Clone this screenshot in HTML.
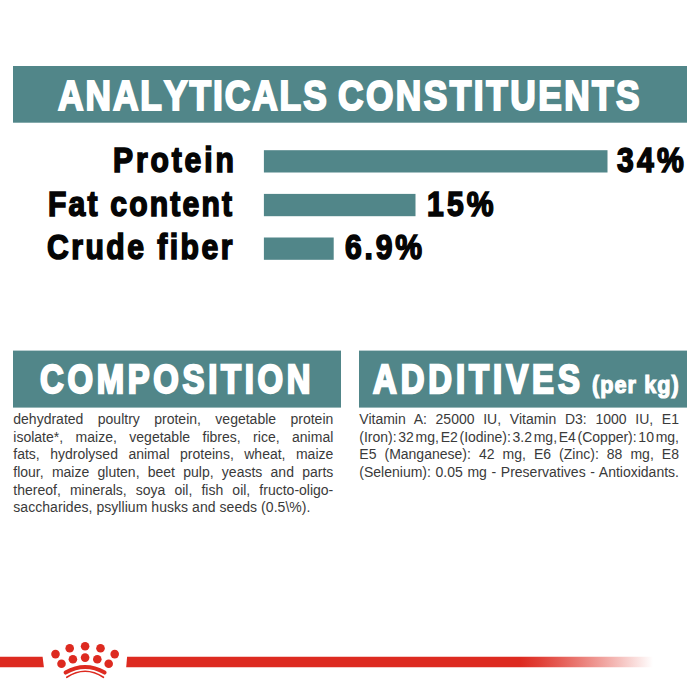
<!DOCTYPE html>
<html>
<head>
<meta charset="utf-8">
<style>
html,body{margin:0;padding:0;background:#fff;}
body{width:700px;height:700px;position:relative;overflow:hidden;font-family:"Liberation Sans",sans-serif;}
.abs{position:absolute;}
.t{position:absolute;font-weight:bold;white-space:nowrap;transform-origin:0 0;line-height:1;font-kerning:none;}
.b{position:absolute;font-size:14px;line-height:14px;height:14px;color:#3a3a3a;width:320px;text-align:justify;text-align-last:justify;white-space:nowrap;}
</style>
</head>
<body>
<svg class="abs" style="left:0;top:0" width="700" height="700" viewBox="0 0 700 700"><defs><linearGradient id="rg" gradientUnits="userSpaceOnUse" x1="126.2" y1="0" x2="653" y2="0"><stop offset="0.7475" stop-color="#dd2a20" stop-opacity="1.000"/><stop offset="0.7855" stop-color="#dd2a20" stop-opacity="0.897"/><stop offset="0.8235" stop-color="#dd2a20" stop-opacity="0.763"/><stop offset="0.8614" stop-color="#dd2a20" stop-opacity="0.615"/><stop offset="0.8994" stop-color="#dd2a20" stop-opacity="0.457"/><stop offset="0.9374" stop-color="#dd2a20" stop-opacity="0.290"/><stop offset="0.9753" stop-color="#dd2a20" stop-opacity="0.116"/><stop offset="1.0000" stop-color="#dd2a20" stop-opacity="0.000"/></linearGradient></defs><rect x="13" y="66" width="674.00" height="56.70" fill="#518689"/>
<rect x="13" y="350.6" width="328.00" height="57.00" fill="#518689"/>
<rect x="359" y="350.6" width="328.00" height="57.00" fill="#518689"/>
<rect x="263.9" y="150.2" width="343.60" height="22.30" fill="#518689"/>
<rect x="263.9" y="193.9" width="151.60" height="22.30" fill="#518689"/>
<rect x="263.9" y="237.5" width="69.80" height="22.30" fill="#518689"/>
<polygon points="0,656.8 42.6,656.8 43.9,667.3 0,667.3" fill="#dd2a20"/>
<polygon points="127.1,656.8 653,656.8 653,667.3 126.2,667.3" fill="url(#rg)"/>
<g fill="#dd2a20">
<circle cx="55.5" cy="654.1" r="4.3"/>
<circle cx="69.7" cy="648.2" r="4.3"/>
<circle cx="85.1" cy="646.3" r="4.3"/>
<circle cx="100.5" cy="648.2" r="4.3"/>
<circle cx="114.7" cy="654.1" r="4.3"/>
<circle cx="61.5" cy="663.8" r="4.3"/>
<circle cx="72.9" cy="659.3" r="4.3"/>
<circle cx="85.1" cy="657.6" r="4.3"/>
<circle cx="97.3" cy="659.3" r="4.3"/>
<circle cx="108.7" cy="663.8" r="4.3"/>
</g>
<path d="M65.6 672.6 Q85.1 661.5 104.6 672.6" fill="none" stroke="#dd2a20" stroke-width="4" stroke-linecap="round"/>
<path d="M66.8 677.3 Q85.1 665.2 103.4 677.3" fill="none" stroke="#dd2a20" stroke-width="1.7" stroke-linecap="round"/></svg>
<div class="t" style="left:57.64px;top:74.00px;font-size:43px;letter-spacing:2.425px;color:#fff;transform:scaleX(0.8200);-webkit-text-stroke:2.2px #fff;">ANALYTICALS</div>
<div class="t" style="left:338.29px;top:74.00px;font-size:43px;letter-spacing:3.037px;color:#fff;transform:scaleX(0.8200);-webkit-text-stroke:2.2px #fff;">CONSTITUENTS</div>
<div class="t" style="left:40.35px;top:359.00px;font-size:41px;letter-spacing:4.660px;color:#fff;transform:scaleX(0.8000);-webkit-text-stroke:2.4px #fff;">COMPOSITION</div>
<div class="t" style="left:373.18px;top:359.00px;font-size:41px;letter-spacing:4.977px;color:#fff;transform:scaleX(0.8000);-webkit-text-stroke:2.4px #fff;">ADDITIVES</div>
<div class="t" style="left:592.36px;top:373.00px;font-size:24px;letter-spacing:1.192px;color:#fff;transform:scaleX(0.9000);-webkit-text-stroke:1.2px #fff;">(per kg)</div>
<div class="t" style="left:112.88px;top:142.00px;font-size:35px;letter-spacing:3.313px;color:#050505;transform:scaleX(0.8600);-webkit-text-stroke:1.6px #050505;">Protein</div>
<div class="t" style="left:48.28px;top:186.00px;font-size:35px;letter-spacing:2.546px;color:#050505;transform:scaleX(0.8600);-webkit-text-stroke:1.6px #050505;">Fat content</div>
<div class="t" style="left:47.38px;top:229.00px;font-size:35px;letter-spacing:2.883px;color:#050505;transform:scaleX(0.8600);-webkit-text-stroke:1.6px #050505;">Crude fiber</div>
<div class="t" style="left:616.99px;top:142.00px;font-size:35px;letter-spacing:3.796px;color:#050505;transform:scaleX(0.8600);-webkit-text-stroke:1.6px #050505;">34%</div>
<div class="t" style="left:426.58px;top:186.00px;font-size:35px;letter-spacing:3.682px;color:#050505;transform:scaleX(0.8600);-webkit-text-stroke:1.6px #050505;">15%</div>
<div class="t" style="left:344.58px;top:229.00px;font-size:35px;letter-spacing:3.257px;color:#050505;transform:scaleX(0.8600);-webkit-text-stroke:1.6px #050505;">6.9%</div>
<div class="b" style="left:13.3px;top:412px;">dehydrated poultry protein, vegetable protein</div>
<div class="b" style="left:13.3px;top:430px;">isolate*, maize, vegetable fibres, rice, animal</div>
<div class="b" style="left:13.3px;top:447px;">fats, hydrolysed animal proteins, wheat, maize</div>
<div class="b" style="left:13.3px;top:465px;">flour, maize gluten, beet pulp, yeasts and parts</div>
<div class="b" style="left:13.3px;top:483px;">thereof, minerals, soya oil, fish oil, fructo-oligo-</div>
<div class="b" style="left:13.3px;top:500px;text-align-last:left;letter-spacing:0.05px;">saccharides, psyllium husks and seeds (0.5\%).</div>
<div class="b" style="left:359.3px;top:412px;width:319.7px;">Vitamin A: 25000 IU, Vitamin D3: 1000 IU, E1</div>
<div class="b" style="left:359.3px;top:430px;width:319.7px;word-spacing:-2.6px;">(Iron): 32 mg, E2 (Iodine): 3.2 mg, E4 (Copper): 10 mg,</div>
<div class="b" style="left:359.3px;top:447px;width:319.7px;">E5 (Manganese): 42 mg, E6 (Zinc): 88 mg, E8</div>
<div class="b" style="left:359.3px;top:465px;width:319.7px;">(Selenium): 0.05 mg - Preservatives - Antioxidants.</div>
</body>
</html>
